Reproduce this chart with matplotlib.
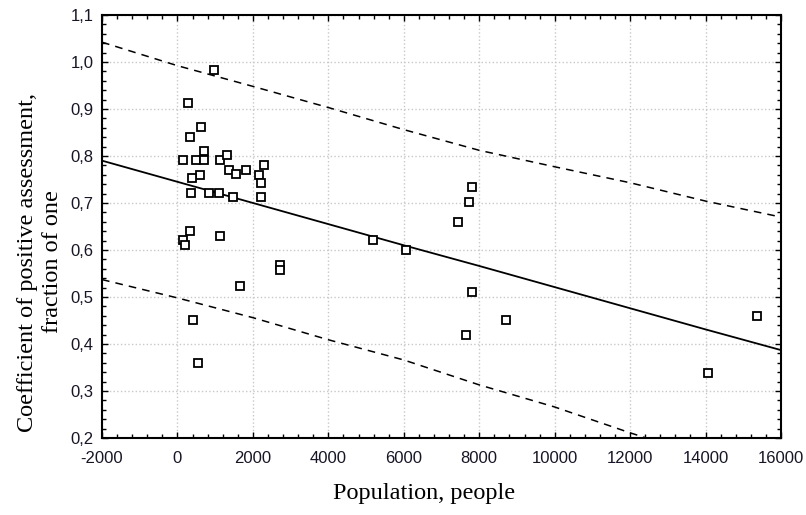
import matplotlib
matplotlib.use("Agg")
import matplotlib.pyplot as plt
from matplotlib.ticker import MultipleLocator, FuncFormatter

plt.rcParams["axes.unicode_minus"] = False

# scatter data
population = [956, 292, 621, 329, 700, 151, 496, 700, 1133, 1311,
              1354, 1558, 1816, 2283, 2151, 584, 398, 2222, 364, 823,
              1088, 1471, 2222, 329, 151, 196, 1133, 2708, 2708, 1664,
              409, 550, 5186, 6045, 7815, 7736, 7433, 7815, 8707, 7656,
              14070, 15355]
coefficient = [0.983, 0.913, 0.861, 0.840, 0.811, 0.791, 0.791, 0.791, 0.791, 0.801,
               0.770, 0.761, 0.770, 0.780, 0.760, 0.760, 0.753, 0.742, 0.722, 0.722,
               0.722, 0.712, 0.712, 0.641, 0.621, 0.611, 0.630, 0.569, 0.558, 0.523,
               0.450, 0.359, 0.621, 0.601, 0.733, 0.702, 0.660, 0.511, 0.450, 0.420,
               0.338, 0.460]

# regression line and prediction band
band_x = [-2000, 0, 2000, 4000, 6000, 8000, 10000, 12000, 14000, 16000]
fit_y = [0.790, 0.745, 0.700, 0.655, 0.610, 0.566, 0.521, 0.476, 0.431, 0.387]
upper_y = [1.042, 0.992, 0.948, 0.903, 0.856, 0.812, 0.777, 0.743, 0.704, 0.670]
lower_y = [0.537, 0.498, 0.456, 0.409, 0.366, 0.313, 0.266, 0.211, 0.160, 0.105]

x_ticks = list(range(-2000, 16001, 2000))


def comma(v, pos):
    return f"{v:.1f}".replace(".", ",")


fig = plt.figure(figsize=(8.06, 5.15), dpi=100)
ax = fig.add_axes([0.1266, 0.1495, 0.8424, 0.8215])

ax.plot(band_x, fit_y, color="black", lw=1.3)
ax.plot(band_x, upper_y, color="black", lw=1.1, ls=(0, (5, 4)))
ax.plot(band_x, lower_y, color="black", lw=1.1, ls=(0, (5, 4)))
ax.plot(population, coefficient, ls="none", marker="s", ms=5.5,
        mfc="white", mec="black", mew=1.3)

ax.set_xlim(-2000, 16000)
ax.set_ylim(0.2, 1.1)
ax.set_xticks(x_ticks)
ax.xaxis.set_minor_locator(MultipleLocator(400))
ax.yaxis.set_major_locator(MultipleLocator(0.1))
ax.yaxis.set_minor_locator(MultipleLocator(0.02))
ax.yaxis.set_major_formatter(FuncFormatter(comma))

ax.grid(True, which="major", ls=":", color="#c8c8c8", lw=1)
ax.tick_params(which="both", direction="in", top=True, right=True,
               labelsize=12, labelcolor="#161626", width=1)
ax.tick_params(which="major", length=4)
ax.tick_params(which="minor", length=3)
ax.tick_params(axis="x", which="major", pad=9)
ax.tick_params(axis="y", which="major", pad=6)
for lbl in ax.get_xticklabels() + ax.get_yticklabels():
    lbl.set_family("Liberation Sans")
for s in ax.spines.values():
    s.set_linewidth(1.5)

ax.set_xlabel("Population, people", family="Liberation Serif", fontsize=17.5,
              va="center")
ax.xaxis.set_label_coords(0.474, -0.13)
ax.set_ylabel("Coefficient of positive assessment,\nfraction of one",
              family="Liberation Serif", fontsize=17.5, va="center",
              linespacing=1.25)
ax.yaxis.set_label_coords(-0.091, 0.416)

fig.savefig("out.png", dpi=100)
